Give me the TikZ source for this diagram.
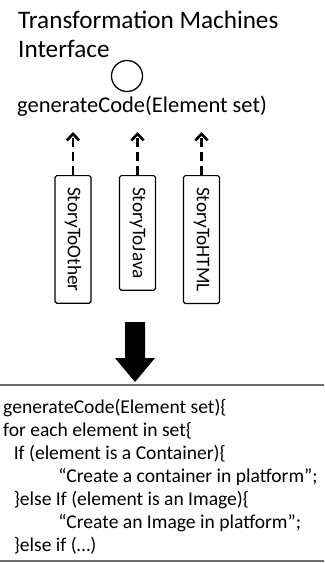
\documentclass[tikz,border=0pt]{standalone}
\usepackage{fontspec}
\setmainfont{Carlito}
\usetikzlibrary{arrows.meta, positioning}
\tikzset{
  story/.style   = {draw, rotate=-90, rounded corners=1.5pt, line width=1pt,
                    minimum height=1.08cm, inner xsep=9.8pt, inner ysep=0pt,
                    font=\fontsize{16.5}{18}\selectfont},
  dep/.style     = {dash pattern=on 0.27cm off 0.15cm, line width=2.3pt,
                    -{Straight Barb[length=5.5pt, width=10.5pt]}},
  sepline/.style = {draw=gray!85!black, line width=1.8pt},
  iface/.style   = {draw, circle, minimum size=0.93cm, inner sep=0pt, line width=1.1pt},
  codetxt/.style = {align=left, inner sep=0pt, font=\fontsize{16.7}{19.5}\selectfont},
}

\begin{document}
\begin{tikzpicture}[x=0.03cm, y=-0.03cm]
  \useasboundingbox (0,0) rectangle (324,563);
  % interface with its operation (base = last line)
  \node[align=left, inner sep=0pt, anchor=base west,
        font=\fontsize{21.5}{25.6}\selectfont] (title) at (18,58)
        {Transformation Machines\\Interface};
  \node[iface] (itf) at (127,76) {};
  \node[inner sep=0pt, anchor=base west, font=\fontsize{19.2}{22}\selectfont]
        (gen) at (17,112) {generateCode(Element set)};

  % implementing machines
  \node[story, anchor=west] (b1) at (73,175) {StoryToOther};
  \node[story, anchor=west] (b2) at (137.5,175) {StoryToJava};
  \node[story, anchor=west] (b3) at (201.5,175) {StoryToHTML};
  \foreach \b in {b1, b2, b3}
    \draw[dep] (\b.west) -- ++(0,-43);

  % big arrow down to the generated code
  \coordinate (bigtop) at (135,322);
  \fill (bigtop) ++(-10,0) -- ++(20,0) -- ++(0,36) -- ++(10,0)
        -- ++(-20,24) -- ++(-20,-24) -- ++(10,0) -- cycle;

  \draw[sepline] (0,385) -- (324,385);
  \draw[sepline] (0,561) -- (324,561);
  \node[codetxt, anchor=base west] (body) at (3,551)
    {generateCode(Element set)\{\\
     for each element in set\{\\
     \hspace*{9pt}If (element is a Container)\{\\
     \hspace*{47pt}“Create a container in platform”;\\
     \hspace*{9pt}\}else If (element is an Image)\{\\
     \hspace*{47pt}“Create an Image in platform”;\\
     \hspace*{9pt}\}else if (…)};
\end{tikzpicture}
\end{document}
